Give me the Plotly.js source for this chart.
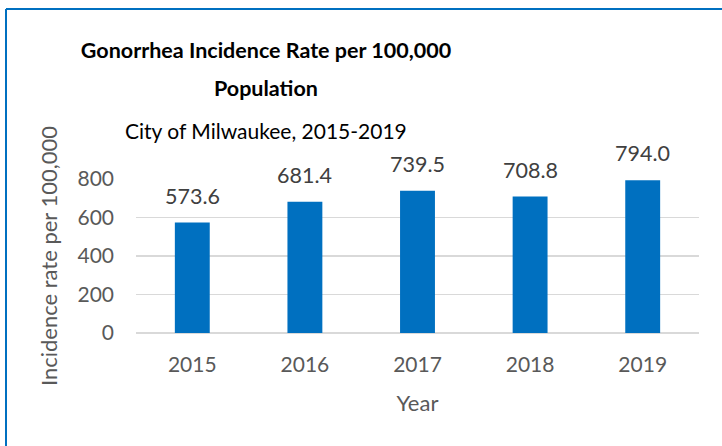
<!DOCTYPE html>
<html><head><meta charset="utf-8">
<script src="https://cdn.plot.ly/plotly-3.0.1.min.js"></script>
<style>html,body{margin:0;padding:0;background:#fff}#c{width:722px;height:446px}</style>
</head><body><div id="c"></div>
<script>
const years = ['2015','2016','2017','2018','2019'];
const rates = [573.6, 681.4, 739.5, 708.8, 794.0];
const yTicks = [0, 200, 400, 600, 800];

const font = 'Lato, "Open Sans", sans-serif';
const L = 136, T = 179, W = 563, H = 154;
const px = x => (x - L) / W;
const py = y => 1 - (y - T) / H;

const xIdx = years.map((_, i) => i);
const trace = {
  type: 'bar', x: xIdx, y: rates,
  marker: {color: '#0070C0'},
  hoverinfo: 'none'
};
const annotations = xIdx.map(i => ({
  x: i, y: rates[i], xref: 'x', yref: 'y',
  text: rates[i].toFixed(1), showarrow: false,
  yanchor: 'bottom', yshift: 12,
  font: {family: font, size: 21.5, color: '#404040'}
}));
annotations.push({
  xref: 'paper', yref: 'paper', x: px(266), y: py(88), xanchor: 'center', yanchor: 'middle',
  text: '<b>Population</b>', showarrow: false,
  font: {family: font, size: 21.5, color: '#000'}
});
annotations.push({
  xref: 'paper', yref: 'paper', x: px(266), y: py(130), xanchor: 'center', yanchor: 'middle',
  text: 'City of Milwaukee, 2015-2019', showarrow: false,
  font: {family: font, size: 21, color: '#000'}
});
const layout = {
  width: 722, height: 446,
  margin: {l: L, r: 722 - L - W, t: T, b: 446 - T - H},
  paper_bgcolor: '#fff', plot_bgcolor: '#fff',
  showlegend: false,
  bargap: 0.69,
  title: {
    text: '<b>Gonorrhea Incidence Rate per 100,000</b>',
    xref: 'container', yref: 'container', x: 266 / 722, xanchor: 'center',
    y: 1 - 50 / 446, yanchor: 'middle',
    font: {family: font, size: 21.5, color: '#000'}
  },
  xaxis: {
    range: [-0.5, 4.5], tickvals: xIdx, ticktext: years,
    showgrid: false, showline: false, ticks: '', zeroline: false,
    ticklabelstandoff: 17,
    tickfont: {family: font, size: 21, color: '#595959'},
    title: {text: 'Year', font: {family: font, size: 22, color: '#595959'}, standoff: 20}
  },
  yaxis: {
    range: [0, 800], tickvals: yTicks, ticktext: yTicks.map(String),
    showgrid: true, gridcolor: '#d9d9d9', gridwidth: 1.5,
    zeroline: true, zerolinecolor: '#d9d9d9', zerolinewidth: 1.5,
    showline: false, ticks: '', ticklabelstandoff: 21,
    tickfont: {family: font, size: 21, color: '#595959'},
    title: {text: 'Incidence rate per 100,000', font: {family: font, size: 22, color: '#595959'}, standoff: 13}
  },
  annotations: annotations,
  shapes: [
    {type: 'line', xref: 'paper', yref: 'paper', x0: px(6), x1: px(6), y0: py(9), y1: py(460), line: {color: '#0070C0', width: 2}},
    {type: 'line', xref: 'paper', yref: 'paper', x0: px(6), x1: px(740), y0: py(9), y1: py(9), line: {color: '#0070C0', width: 2}}
  ]
};
Plotly.newPlot('c', [trace], layout, {staticPlot: true});
</script></body></html>
